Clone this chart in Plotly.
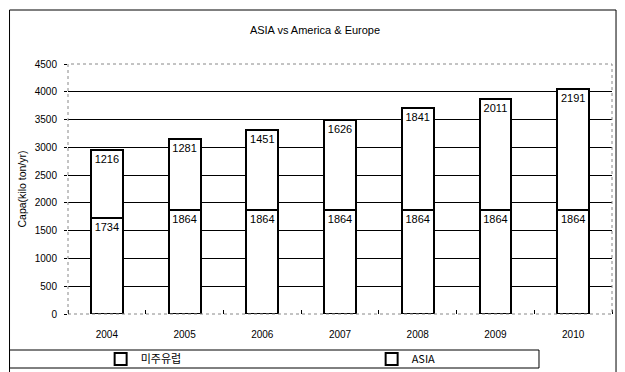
import plotly.graph_objects as go

# Capacity by region, kilo ton per year
years = [2004, 2005, 2006, 2007, 2008, 2009, 2010]
america_europe = [1734, 1864, 1864, 1864, 1864, 1864, 1864]
asia = [1216, 1281, 1451, 1626, 1841, 2011, 2191]
y_ticks = [0, 500, 1000, 1500, 2000, 2500, 3000, 3500, 4000, 4500]
grid_vals = y_ticks[1:-1]

FONT = "Liberation Sans, Arial, sans-serif"
KFONT = "Noto Sans CJK KR, Liberation Sans, sans-serif"

bar_style = dict(color="white", line=dict(color="black", width=2))
label_style = dict(textposition="inside", insidetextanchor="end",
                   constraintext="none",
                   textfont=dict(family=FONT, size=11, color="black"))

fig = go.Figure()
fig.add_trace(go.Bar(x=years, y=america_europe, name="미주유럽",
                     text=[str(v) for v in america_europe],
                     marker=bar_style, **label_style))
fig.add_trace(go.Bar(x=years, y=asia, name="ASIA",
                     text=[str(v) for v in asia],
                     marker=bar_style, **label_style))
# invisible trace carrying the inner horizontal grid on an overlaid axis
fig.add_trace(go.Scatter(x=[years[0]], y=[0], yaxis="y2", mode="markers",
                         marker=dict(opacity=0), showlegend=False,
                         hoverinfo="skip"))

fig.update_layout(
    width=625, height=372,
    margin=dict(l=68, r=13, t=64, b=58, autoexpand=False),
    paper_bgcolor="white", plot_bgcolor="white",
    barmode="stack", bargap=0.59,
    font=dict(family=FONT, size=10, color="black"),
    title=dict(text="ASIA vs America & Europe", x=0.504, xref="container",
               xanchor="center", y=0.919, yref="container", yanchor="middle",
               font=dict(family=FONT, size=11, color="black")),
    xaxis=dict(range=[2003.5, 2010.5], tickvals=years,
               ticktext=[str(y) for y in years], ticks="",
               showgrid=False, zeroline=False, showline=False,
               ticklabelstandoff=13,
               tickfont=dict(family=FONT, size=10, color="black"),
               minor=dict(ticks="inside", ticklen=4, tick0=2003.5, dtick=1,
                          tickcolor="black", tickwidth=1, showgrid=False)),
    yaxis=dict(range=[0, 4500], tickvals=y_ticks, showgrid=False,
               zeroline=False, showline=False, ticks="outside", ticklen=3,
               tickcolor="black", ticklabelstandoff=5,
               tickfont=dict(family=FONT, size=10, color="black"),
               title=dict(text="Capa(kilo ton/yr)", standoff=6,
                          font=dict(family=FONT, size=10.5, color="black"))),
    yaxis2=dict(range=[0, 4500], overlaying="y", tickvals=grid_vals,
                showticklabels=False, showgrid=True, gridcolor="black",
                gridwidth=1, zeroline=False, showline=False, ticks=""),
    legend=dict(orientation="h", x=0.06, xanchor="left", y=-0.18,
                yanchor="middle", entrywidth=226, entrywidthmode="pixels",
                bgcolor="rgba(0,0,0,0)", borderwidth=0,
                font=dict(family=KFONT, size=11, color="black"),
                traceorder="normal"),
    shapes=[
        # plot area frame
        dict(type="rect", xref="paper", yref="paper", x0=0, x1=1, y0=0, y1=1,
             line=dict(color="#888888", width=1, dash="dot"), layer="above"),
        # chart frame
        dict(type="rect", xref="paper", yref="paper", x0=-0.1075, x1=1.0074,
             y0=-0.3, y1=1.216, line=dict(color="black", width=1)),
        # legend frame
        dict(type="rect", xref="paper", yref="paper", x0=-0.1075, x1=0.8658,
             y0=-0.216, y1=-0.144, line=dict(color="black", width=1)),
    ],
)

fig.write_html("out.html")
